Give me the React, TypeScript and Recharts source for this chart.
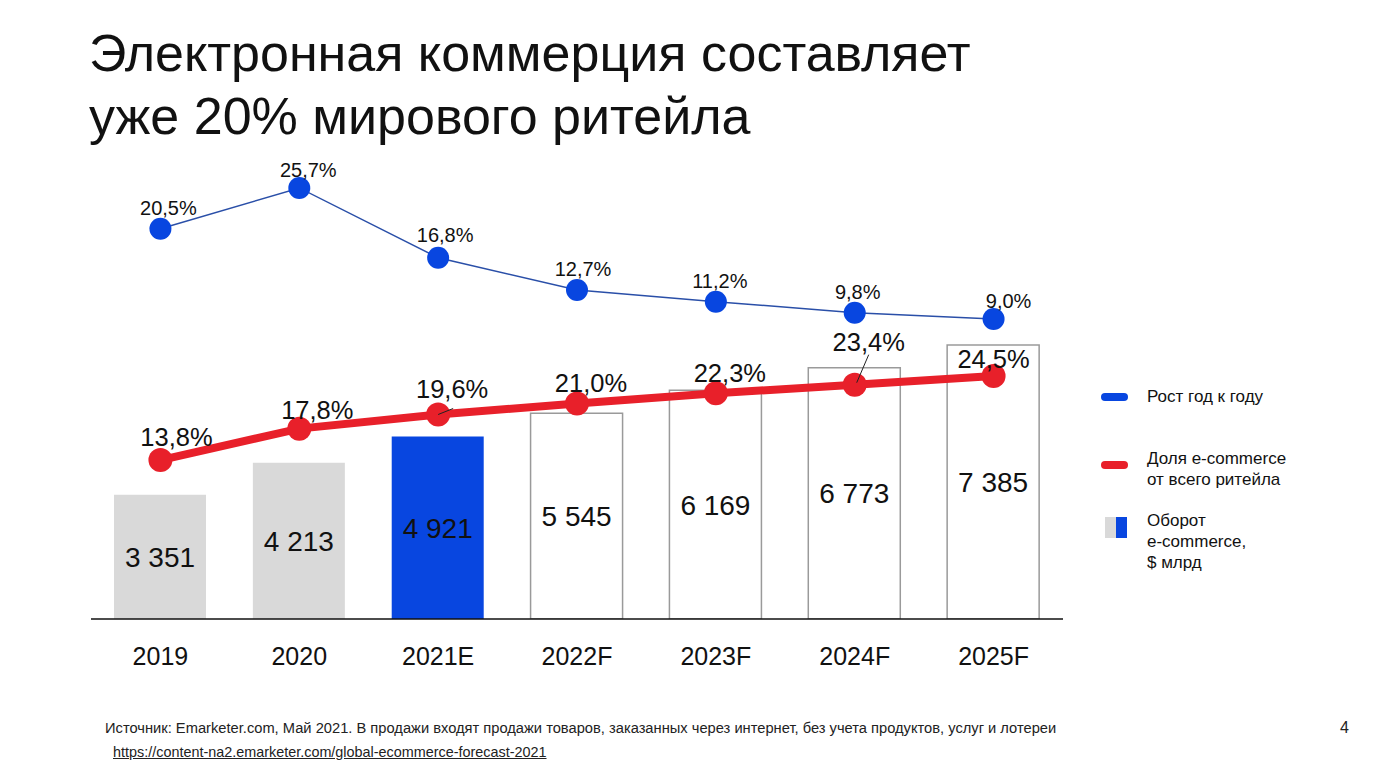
import React from 'react';
import { ComposedChart, Bar, Line, XAxis, YAxis, Cell, LabelList } from 'recharts';

const years = ['2019', '2020', '2021E', '2022F', '2023F', '2024F', '2025F'];
const turnover = [3351, 4213, 4921, 5545, 6169, 6773, 7385];
const ecomShare = [13.8, 17.8, 19.6, 21.0, 22.3, 23.4, 24.5];
const yoyGrowth = [20.5, 25.7, 16.8, 12.7, 11.2, 9.8, 9.0];

const data = years.map((year, i) => ({
  year,
  turnover: turnover[i],
  share: ecomShare[i],
  growth: yoyGrowth[i],
}));

// label nudges relative to each point
const shareNudge = [[16, -23], [18, -19], [14, -26], [14, -21], [14, -20], [14, -43], [0, -17]];
const growthNudge = [[8, -21], [9, -18], [7, -23], [6, -21], [4, -21], [3, -21], [15, -18]];

const FONT = '"Liberation Sans", Arial, sans-serif';
const BLUE = '#0846e0';
const RED = '#e8202a';
const GREY = '#d9d9d9';

const barFill = (i: number) => (i < 2 ? GREY : i === 2 ? BLUE : '#ffffff');
const fmtNum = (v: number) => String(v).replace(/\B(?=(\d{3})+(?!\d))/g, ' ');
const fmtPct = (v: number) => v.toFixed(1).replace('.', ',') + '%';

function ShareLabel(props: any) {
  const { x, y, value, index } = props;
  const [dx, dy] = shareNudge[index];
  return (
    <g>
      {index === 5 && <line x1={x + 2} y1={y - 2} x2={x + 14} y2={y - 30} stroke="#222" strokeWidth={1} />}
      {index === 2 && <line x1={x} y1={y} x2={x + 15} y2={y - 6} stroke="#222" strokeWidth={1} />}
      <text x={x + dx} y={y + dy} textAnchor="middle" dominantBaseline="central" fontSize={25.5} fill="#111" fontFamily={FONT}>
        {fmtPct(value)}
      </text>
    </g>
  );
}

function GrowthLabel(props: any) {
  const { x, y, value, index } = props;
  const [dx, dy] = growthNudge[index];
  return (
    <text x={x + dx} y={y + dy} textAnchor="middle" dominantBaseline="central" fontSize={20} fill="#111" fontFamily={FONT}>
      {fmtPct(value)}
    </text>
  );
}

function YearTick(props: any) {
  const { x, y, payload } = props;
  return (
    <text x={x} y={y + 29} textAnchor="middle" dominantBaseline="central" fontSize={25} fill="#111" fontFamily={FONT}>
      {payload.value}
    </text>
  );
}

export default function App() {
  return (
    <div style={{ position: 'absolute', left: 0, top: 0, width: 1380, height: 770, background: '#fff', fontFamily: FONT, color: '#111' }}>
      <div style={{ position: 'absolute', left: 89, top: 22, fontSize: 52, lineHeight: '63px' }}>
        Электронная коммерция составляет
        <br />
        уже 20% мирового ритейла
      </div>

      <ComposedChart
        width={1380}
        height={770}
        data={data}
        margin={{ top: 159, right: 317, left: 91, bottom: 91 }}
        style={{ position: 'absolute', left: 0, top: 0 }}
      >
        <XAxis
          dataKey="year"
          height={60}
          axisLine={{ stroke: '#111', strokeWidth: 1.5 }}
          tickLine={false}
          tick={<YearTick />}
          interval={0}
        />
        <YAxis yAxisId="bar" hide domain={[0, 12400]} allowDataOverflow />
        <YAxis yAxisId="share" hide domain={[-6.45, 52.15]} allowDataOverflow />
        <YAxis yAxisId="growth" hide domain={[-29.25, 29.39]} allowDataOverflow />
        <Bar yAxisId="bar" dataKey="turnover" barSize={92} isAnimationActive={false}>
          {data.map((_, i) => (
            <Cell key={i} fill={barFill(i)} stroke={i > 2 ? '#9a9a9a' : 'none'} strokeWidth={1.5} />
          ))}
          <LabelList dataKey="turnover" position="center" formatter={(v: any) => fmtNum(v)} fontSize={28} fill="#111" fontFamily={FONT} />
        </Bar>
        <Line
          yAxisId="share"
          dataKey="share"
          stroke={RED}
          strokeWidth={8}
          dot={{ r: 12, fill: RED, stroke: RED, strokeWidth: 0 }}
          isAnimationActive={false}
        >
          <LabelList dataKey="share" content={<ShareLabel />} />
        </Line>
        <Line
          yAxisId="growth"
          dataKey="growth"
          stroke="#2a4fa8"
          strokeWidth={1.5}
          dot={{ r: 11, fill: BLUE, stroke: BLUE, strokeWidth: 0 }}
          isAnimationActive={false}
        >
          <LabelList dataKey="growth" content={<GrowthLabel />} />
        </Line>
      </ComposedChart>

      {/* legend */}
      <div style={{ position: 'absolute', left: 1101, top: 393, width: 27, height: 8, borderRadius: 4, background: BLUE }} />
      <div style={{ position: 'absolute', left: 1147, top: 386, fontSize: 17, lineHeight: '21px' }}>Рост год к году</div>
      <div style={{ position: 'absolute', left: 1101, top: 461, width: 27, height: 8, borderRadius: 4, background: RED }} />
      <div style={{ position: 'absolute', left: 1147, top: 448, fontSize: 17, lineHeight: '21px' }}>
        Доля e-commerce
        <br />
        от всего ритейла
      </div>
      <div style={{ position: 'absolute', left: 1105, top: 517, width: 11, height: 21, background: GREY }} />
      <div style={{ position: 'absolute', left: 1116, top: 517, width: 11, height: 21, background: BLUE }} />
      <div style={{ position: 'absolute', left: 1147, top: 510, fontSize: 17, lineHeight: '21px' }}>
        Оборот
        <br />
        e-commerce,
        <br />$ млрд
      </div>

      {/* footer */}
      <div style={{ position: 'absolute', left: 105, top: 719, fontSize: 14.7, lineHeight: '18px', color: '#222', whiteSpace: 'nowrap' }}>
        Источник: Emarketer.com, Май 2021. В продажи входят продажи товаров, заказанных через интернет, без учета продуктов, услуг и лотереи
      </div>
      <div style={{ position: 'absolute', left: 113, top: 743, fontSize: 14.4, lineHeight: '18px', color: '#222', textDecoration: 'underline', whiteSpace: 'nowrap' }}>
        https://content-na2.emarketer.com/global-ecommerce-forecast-2021
      </div>
      <div style={{ position: 'absolute', left: 1340, top: 718, fontSize: 16, lineHeight: '20px', color: '#222' }}>4</div>
    </div>
  );
}
